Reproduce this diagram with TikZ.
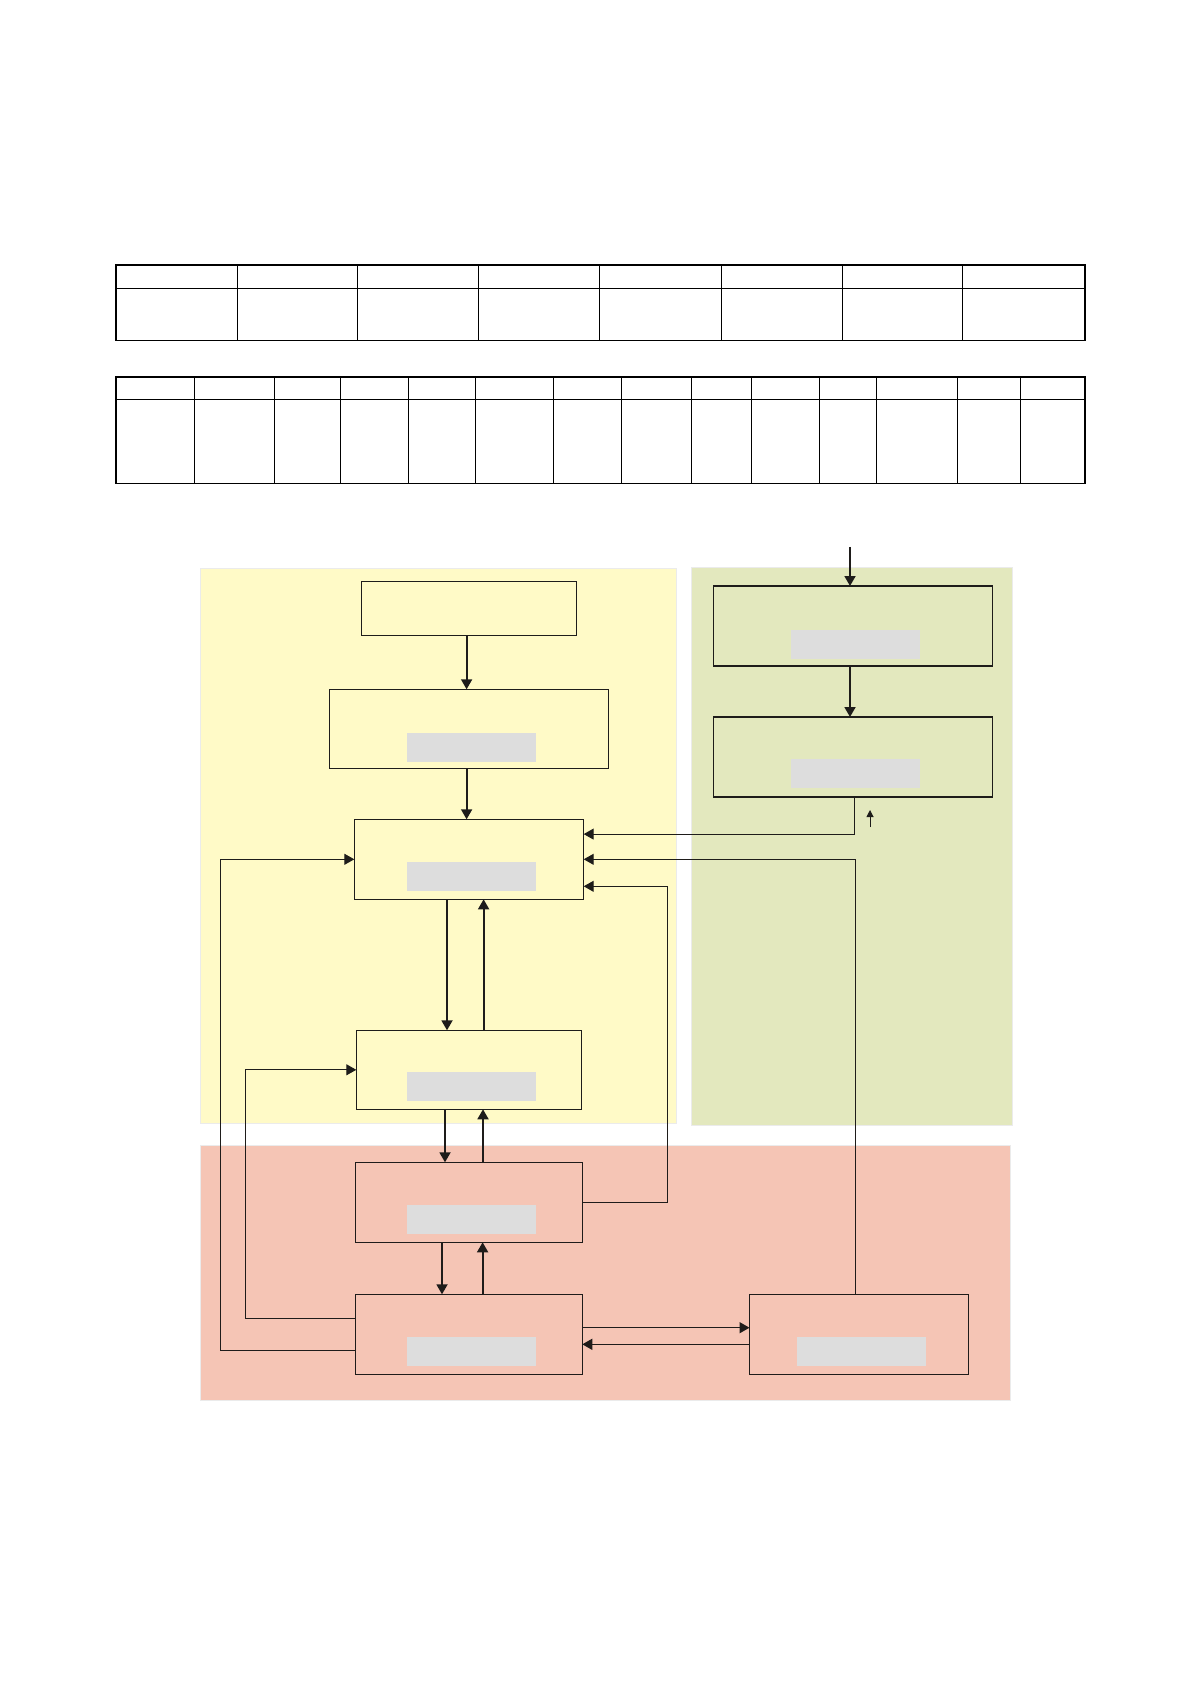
\documentclass[tikz,border=0pt]{standalone}
\usepackage[dvipsnames,svgnames,x11names]{xcolor}
\usepackage{tikz}
\usetikzlibrary{arrows.meta, positioning, backgrounds}
\definecolor{paleyellow}{RGB}{255,250,199}
\definecolor{palegreen}{RGB}{227,232,190}
\definecolor{palered}{RGB}{245,197,181}
\definecolor{bargrey}{RGB}{221,221,221}
\definecolor{inkline}{RGB}{30,28,26}

\begin{document}
\begin{tikzpicture}[
    x=0.5pt, y=-0.5pt,
    box/.style={rectangle, draw=inkline, line width=0.6pt, inner sep=0pt, outer sep=0pt},
    bar/.style={rectangle, fill=bargrey, minimum width=64.5pt, minimum height=14.5pt, inner sep=0pt, outer sep=0pt},
    arr/.style={-{Triangle[length=5pt, width=5.5pt]}, line width=0.9pt, inkline},
    link/.style={-{Triangle[length=5pt, width=5.5pt]}, line width=0.5pt, inkline},
    zone/.style={draw=black!8, line width=0.4pt},
    grid/.style={line width=0.5pt},
    frame/.style={line width=0.8pt},
    node distance=25pt
]
\useasboundingbox (0,0) rectangle (1191,1684);

% Tables
\draw[frame] (116,265.3) rectangle (1084.7,340.4);
\draw[grid] (116,288.9) -- (1084.7,288.9);
\foreach \x in {237.3,357.9,478.5,599.7,721,842.3,962.8}
  \draw[grid] (\x,265.3) -- (\x,340.4);

\draw[frame] (116,376.9) rectangle (1084.7,483.3);
\draw[grid] (116,399.5) -- (1084.7,399.5);
\foreach \x in {194.5,274.3,340.6,408.9,475.9,553.8,621.4,691,751.6,819.3,876.7,957.7,1020.9}
  \draw[grid] (\x,376.9) -- (\x,483.3);

% Zones
\filldraw[zone, fill=paleyellow] (200,568) rectangle (676,1123);
\filldraw[zone, fill=palegreen] (691.7,567.7) rectangle (1012.7,1125.4);
\filldraw[zone, fill=palered] (200.6,1145.7) rectangle (1010.5,1400);

% Left column
\node[box, minimum width=107.7pt, minimum height=27pt] (entry) at (469,608.3) {};
\node[box, minimum width=139.7pt, minimum height=39.7pt, below=27pt of entry] (prep) {};
\node[box, minimum width=114.7pt, minimum height=40pt, below=25.3pt of prep] (core) {};
\node[box, minimum width=112.7pt, minimum height=39.5pt, below=65.5pt of core] (proc) {};
\node[box, minimum width=113.3pt, minimum height=40pt, below=26.5pt of proc] (io) {};
\node[box, minimum width=113.3pt, minimum height=40pt, below=26pt of io] (hw) {};
\node[box, minimum width=109.5pt, minimum height=40pt, right=83.6pt of hw] (peer) {};

% Right column
\node[box, minimum width=139.5pt, minimum height=40pt] (recv) at (852.8,626) {};
\node[box, minimum width=139.5pt, minimum height=40pt, below=25.5pt of recv] (decode) {};

% Grey bars
\node[bar, above=3.5pt of prep.south, xshift=1.25pt] (prepbar) {};
\node[bar, above=4.1pt of core.south, xshift=1.25pt] (corebar) {};
\node[bar, above=4.3pt of proc.south, xshift=1.25pt] (procbar) {};
\node[bar, above=4.1pt of io.south, xshift=1.25pt] (iobar) {};
\node[bar, above=4.1pt of hw.south, xshift=1.25pt] (hwbar) {};
\node[bar, above=4.1pt of peer.south, xshift=1.2pt] (peerbar) {};
\node[bar, above=3.4pt of recv.south, xshift=1.2pt] (recvbar) {};
\node[bar, above=4.6pt of decode.south, xshift=1.2pt] (decodebar) {};

% Arrows
\coordinate (feed) at ([xshift=-1.4pt, yshift=19.6pt]recv.north);
\draw[arr] (feed) -- ([xshift=-1.4pt]recv.north);
\draw[arr] ([xshift=-1.4pt]recv.south) -- ([xshift=-1.4pt]decode.north);
\draw[link] ([xshift=0.6pt]decode.south) |- ([yshift=12.6pt]core.east);
\coordinate (tickA) at ([xshift=8.6pt, yshift=-15pt]decode.south);
\coordinate (tickB) at ([xshift=8.6pt, yshift=-6.5pt]decode.south);
\draw[-{Triangle[length=3.5pt, width=3.5pt]}, line width=0.5pt, inkline] (tickA) -- (tickB);

\draw[arr] ([xshift=-1.2pt]entry.south) -- ([xshift=-1.2pt]prep.north);
\draw[arr] ([xshift=-1.2pt]prep.south) -- ([xshift=-1.2pt]core.north);
\draw[arr] ([xshift=-11pt]core.south) -- ([xshift=-11pt]proc.north);
\draw[arr] ([xshift=7.3pt]proc.north) -- ([xshift=7.3pt]core.south);
\draw[arr] ([xshift=-12pt]proc.south) -- ([xshift=-12pt]io.north);
\draw[arr] ([xshift=7pt]io.north) -- ([xshift=7pt]proc.south);
\draw[arr] ([xshift=-13.5pt]io.south) -- ([xshift=-13.5pt]hw.north);
\draw[arr] ([xshift=6.8pt]hw.north) -- ([xshift=6.8pt]io.south);

\draw[link, line width=0.7pt] ([yshift=3.3pt]hw.east) -- ([yshift=3.3pt]peer.west);
\draw[link, line width=0.7pt] ([yshift=-5pt]peer.west) -- ([yshift=-5pt]hw.east);

% Feedback loops
\draw[link] ([xshift=-1.9pt]peer.north) |- (core.east);
\draw[link] (io.east) -- ++(42.5pt,0) |- ([yshift=-13.5pt]core.east);
\draw[link] ([yshift=-8.3pt]hw.west) -- ++(-67.6pt,0) |- (core.west);
\draw[link] ([yshift=8pt]hw.west) -- ++(-55.3pt,0) |- (proc.west);

\end{tikzpicture}
\end{document}
